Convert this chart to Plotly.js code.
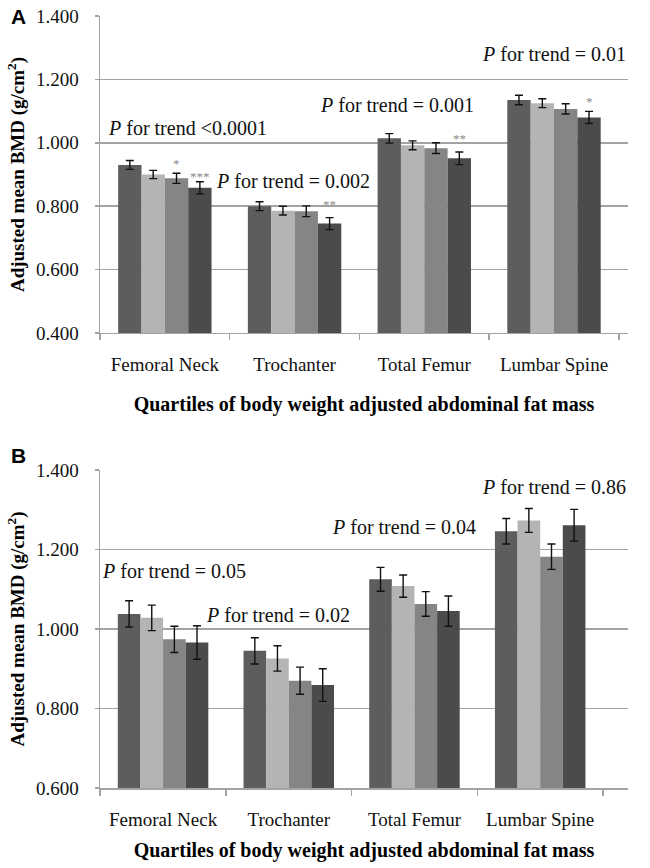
<!DOCTYPE html>
<html>
<head>
<meta charset="utf-8">
<script src="https://cdn.plot.ly/plotly-3.0.1.min.js"></script>
<style>html,body{margin:0;padding:0;background:#fff;}#chart{width:650px;height:868px;}</style>
</head>
<body>
<div id="chart"></div>
<script>
// ---- data ----
const categories = ['Femoral Neck', 'Trochanter', 'Total Femur', 'Lumbar Spine'];

// Panel A
const A_q1 = [0.930, 0.800, 1.014, 1.135];
const A_q1_err = [0.014, 0.014, 0.015, 0.015];
const A_q2 = [0.900, 0.786, 0.992, 1.125];
const A_q2_err = [0.013, 0.014, 0.014, 0.014];
const A_q3 = [0.888, 0.784, 0.983, 1.107];
const A_q3_err = [0.016, 0.017, 0.017, 0.016];
const A_q4 = [0.858, 0.745, 0.951, 1.080];
const A_q4_err = [0.019, 0.019, 0.020, 0.019];
const A_q3_stars = ['*', '', '', ''];
const A_q4_stars = ['***', '**', '**', '*'];
const A_trend = ['<0.0001', '= 0.002', '= 0.001', '= 0.01'];

// Panel B
const B_q1 = [1.038, 0.945, 1.125, 1.246];
const B_q1_err = [0.033, 0.033, 0.030, 0.032];
const B_q2 = [1.028, 0.926, 1.108, 1.273];
const B_q2_err = [0.032, 0.032, 0.028, 0.030];
const B_q3 = [0.974, 0.870, 1.063, 1.182];
const B_q3_err = [0.033, 0.034, 0.031, 0.032];
const B_q4 = [0.966, 0.859, 1.045, 1.261];
const B_q4_err = [0.042, 0.041, 0.038, 0.040];
const B_trend = ['= 0.05', '= 0.02', '= 0.04', '= 0.86'];

const yTicksA = [0.4, 0.6, 0.8, 1.0, 1.2, 1.4];
const yTicksB = [0.6, 0.8, 1.0, 1.2, 1.4];

// ---- style ----
const colors = ['#5d5d5d', '#b4b4b4', '#858585', '#4b4b4b'];
const serif = '"Liberation Serif", "Times New Roman", serif';
const gridC = '#a3a3a3';

function bar(y, err, i, xa, ya) {
  return {
    type: 'bar', x: categories, y: y, xaxis: xa, yaxis: ya,
    marker: {color: colors[i], line: {width: 0}},
    error_y: {type: 'data', array: err, visible: true, color: '#111', thickness: 1.4, width: 4},
    showlegend: false, hoverinfo: 'none'
  };
}

const data = [
  bar(A_q1, A_q1_err, 0, 'x', 'y'),
  bar(A_q2, A_q2_err, 1, 'x', 'y'),
  bar(A_q3, A_q3_err, 2, 'x', 'y'),
  bar(A_q4, A_q4_err, 3, 'x', 'y'),
  bar(B_q1, B_q1_err, 0, 'x2', 'y2'),
  bar(B_q2, B_q2_err, 1, 'x2', 'y2'),
  bar(B_q3, B_q3_err, 2, 'x2', 'y2'),
  bar(B_q4, B_q4_err, 3, 'x2', 'y2')
];

// annotation positions (category index / axis value) for trend texts
const A_trendPos = [[0.178, 1.047], [0.985, 0.879], [1.79, 1.118], [3.0, 1.279]];
const B_trendPos = [[0.087, 1.147], [0.917, 1.036], [1.917, 1.257], [3.11, 1.358]];

const annotations = [];
function trendAnn(txt, pos, xr, yr) {
  annotations.push({
    xref: xr, yref: yr, x: pos[0], y: pos[1], text: '<i>P</i> for trend ' + txt,
    showarrow: false, xanchor: 'center', yanchor: 'middle',
    font: {family: serif, size: 20, color: '#111'}
  });
}
A_trend.forEach((t, i) => trendAnn(t, A_trendPos[i], 'x', 'y'));
B_trend.forEach((t, i) => trendAnn(t, B_trendPos[i], 'x2', 'y2'));

// stars above error bars
const barOffset = [-0.27, -0.09, 0.09, 0.27];
const starShift = {'*': 12, '**': 16, '***': 8};
function starAnn(stars, vals, errs, k) {
  stars.forEach((s, i) => {
    if (!s) return;
    annotations.push({
      xref: 'x', yref: 'y', x: i + barOffset[k], y: vals[i] + errs[i], text: s,
      showarrow: false, xanchor: 'center', yanchor: 'bottom', yshift: starShift[s] - 12,
      font: {family: serif, size: 13, color: '#8a8a8a'}
    });
  });
}
starAnn(A_q3_stars, A_q3, A_q3_err, 2);
starAnn(A_q4_stars, A_q4, A_q4_err, 3);

// panel letters
annotations.push({xref: 'paper', yref: 'paper', x: -0.172, y: 1.0, text: '<b>A</b>', showarrow: false,
  xanchor: 'left', yanchor: 'middle', font: {family: '"Liberation Sans", Arial, sans-serif', size: 21, color: '#000'}});
annotations.push({xref: 'paper', yref: 'paper', x: -0.172, y: 0.4305, text: '<b>B</b>', showarrow: false,
  xanchor: 'left', yanchor: 'middle', font: {family: '"Liberation Sans", Arial, sans-serif', size: 21, color: '#000'}});

const xTitle = '<b>Quartiles of body weight adjusted abdominal fat mass</b>';
const yTitle = '<b>Adjusted mean BMD (g/cm<sup>2</sup>)</b>';

function xaxis(anchor, standoff) {
  return {
    anchor: anchor, domain: [0, 1], type: 'category',
    showline: true, linecolor: gridC, linewidth: 1.5,
    ticks: 'outside', tickson: 'boundaries', ticklen: 6, tickcolor: gridC, tickwidth: 1.5,
    ticklabelstandoff: 14,
    tickfont: {family: serif, size: 19, color: '#111'},
    title: {text: xTitle, font: {family: serif, size: 20, color: '#000'}, standoff: standoff},
    showgrid: false, fixedrange: true
  };
}
function yaxis(anchor, dom, range, tv) {
  return {
    anchor: anchor, domain: dom, range: range, tickvals: tv, tickformat: '.3f',
    showline: true, linecolor: gridC, linewidth: 1.5,
    showgrid: true, gridcolor: gridC, gridwidth: 1.5,
    ticks: 'outside', ticklen: 4, tickcolor: gridC, tickwidth: 1.5,
    ticklabelstandoff: 12,
    tickfont: {family: serif, size: 19, color: '#111'},
    title: {text: yTitle, font: {family: serif, size: 19, color: '#000'}, standoff: 6},
    zeroline: false, fixedrange: true
  };
}

const layout = {
  width: 650, height: 868,
  margin: {l: 100, r: 22, t: 16, b: 80},
  paper_bgcolor: '#fff', plot_bgcolor: '#fff',
  barmode: 'group', bargap: 0.28, bargroupgap: 0,
  xaxis: xaxis('y', 22),
  yaxis: yaxis('x', [0.5894, 1], [0.4, 1.4], yTicksA),
  xaxis2: xaxis('y2', 13),
  yaxis2: yaxis('x2', [0, 0.4119], [0.6, 1.4], yTicksB),
  annotations: annotations,
  showlegend: false
};

Plotly.newPlot('chart', data, layout, {displayModeBar: false, staticPlot: true});
</script>
</body>
</html>
